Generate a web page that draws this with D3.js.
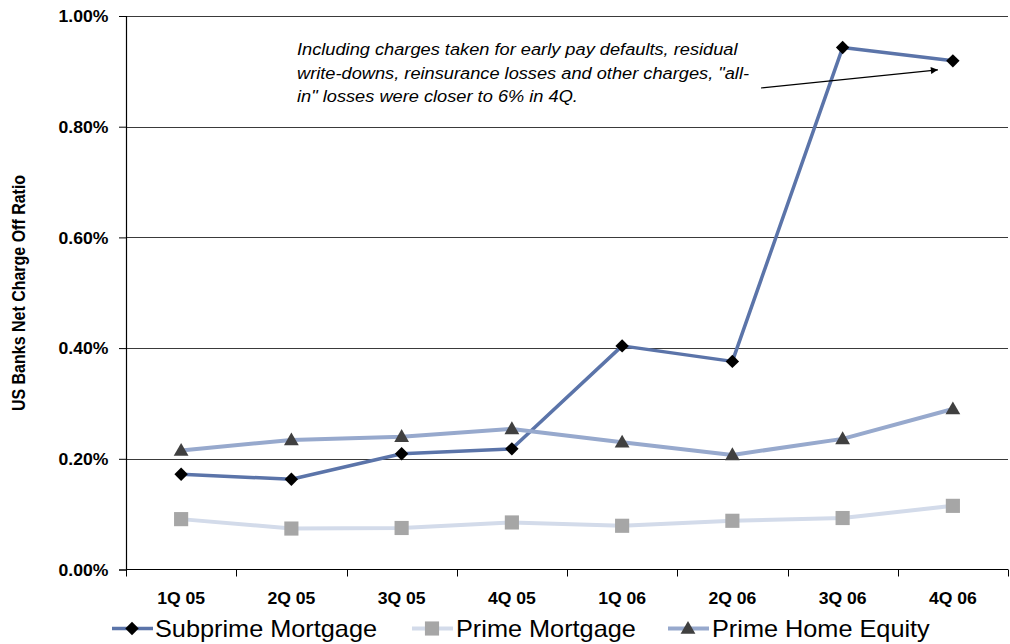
<!DOCTYPE html>
<html>
<head>
<meta charset="utf-8">
<script src="https://cdn.jsdelivr.net/npm/d3@7"></script>
<style>
  html, body { margin: 0; padding: 0; background: #fff; }
  svg { display: block; font-family: Arial, "Liberation Sans", sans-serif; }
</style>
</head>
<body>
<svg id="chart" width="1010" height="644"></svg>
<script>
// Quarterly net charge-off ratios (%), US banks
const quarters = ["1Q 05", "2Q 05", "3Q 05", "4Q 05", "1Q 06", "2Q 06", "3Q 06", "4Q 06"];
const subprimeMortgage = [0.172, 0.163, 0.209, 0.218, 0.404, 0.376, 0.943, 0.919];
const primeMortgage    = [0.091, 0.074, 0.075, 0.085, 0.079, 0.088, 0.093, 0.115];
const primeHomeEquity  = [0.215, 0.234, 0.240, 0.254, 0.230, 0.207, 0.236, 0.290];
const yTicks = [0, 0.2, 0.4, 0.6, 0.8, 1.0];
const seriesNames = ["Subprime Mortgage", "Prime Mortgage", "Prime Home Equity"];
const noteLines = [
  "Including charges taken for early pay defaults, residual",
  "write-downs, reinsurance losses and other charges, \"all-",
  "in\" losses were closer to 6% in 4Q."
];

const series = [
  { name: seriesNames[0], values: subprimeMortgage, line: "#5b74a9", width: 3.5, marker: "diamond", fill: "#000000" },
  { name: seriesNames[1], values: primeMortgage,    line: "#d3dbea", width: 4,   marker: "square",  fill: "#a6a6a6" },
  { name: seriesNames[2], values: primeHomeEquity,  line: "#97a9cd", width: 4,   marker: "triangle", fill: "#404040" }
];

const svg = d3.select("#chart");
const plotLeft = 126, plotRight = 1008, plotTop = 16, plotBottom = 569.5;
const sx = 1.1; // horizontal text stretch

const x = d3.scaleBand().domain(quarters).range([plotLeft, plotRight]);
const xc = q => x(q) + x.bandwidth() / 2;
const y = d3.scaleLinear().domain([0, 1]).range([plotBottom, plotTop]);

const defs = svg.append("defs");
defs.append("marker")
  .attr("id", "arrowHead")
  .attr("viewBox", "0 0 10 10")
  .attr("refX", 10).attr("refY", 5)
  .attr("markerWidth", 9).attr("markerHeight", 7)
  .attr("markerUnits", "userSpaceOnUse")
  .attr("orient", "auto")
  .append("path").attr("d", "M0,0 L10,5 L0,10 Z").attr("fill", "#000");

// Gridlines
svg.append("g").selectAll("line")
  .data(yTicks.filter(d => d > 0))
  .join("line")
  .attr("x1", plotLeft).attr("x2", plotRight)
  .attr("y1", d => Math.round(y(d)) + 0.5).attr("y2", d => Math.round(y(d)) + 0.5)
  .attr("stroke", "#3a3a3a").attr("stroke-width", 1);

// Y axis
const yAxis = svg.append("g")
  .attr("transform", `translate(${plotLeft},0)`)
  .call(d3.axisLeft(y).tickValues(yTicks).tickSize(7).tickPadding(9)
    .tickFormat(d => d.toFixed(2) + "%"));
yAxis.select(".domain").attr("stroke", "#000").attr("stroke-width", 1.2);
yAxis.selectAll(".tick line").attr("stroke", "#000");
yAxis.selectAll(".tick text")
  .attr("font-size", 16).attr("font-weight", "bold").attr("fill", "#000")
  .attr("font-family", "Arial, 'Liberation Sans', sans-serif")
  .attr("dy", "0.36em")
  .attr("transform", `scale(${sx},1)`);

// X axis line and tick marks at category boundaries
const xAxisG = svg.append("g");
xAxisG.append("line")
  .attr("x1", plotLeft).attr("x2", plotRight).attr("y1", plotBottom).attr("y2", plotBottom)
  .attr("stroke", "#000").attr("stroke-width", 1.2);
const bounds = quarters.map(q => x(q)).concat([x.range()[1]]);
xAxisG.selectAll("line.tk").data(bounds).join("line")
  .attr("class", "tk")
  .attr("x1", d => Math.round(d) + 0.5).attr("x2", d => Math.round(d) + 0.5)
  .attr("y1", plotBottom).attr("y2", plotBottom + 7)
  .attr("stroke", "#000");
xAxisG.selectAll("text").data(quarters).join("text")
  .attr("transform", d => `translate(${xc(d)},604) scale(${sx},1)`)
  .attr("text-anchor", "middle")
  .attr("font-size", 16).attr("font-weight", "bold")
  .text(d => d);

// Y axis title
svg.append("text")
  .attr("transform", "translate(25,293) rotate(-90) scale(1,1.1)")
  .attr("text-anchor", "middle")
  .attr("font-size", 16).attr("font-weight", "bold")
  .text("US Banks Net Charge Off Ratio");

// Marker symbols
const symbolFor = {
  diamond: d3.symbol().type(d3.symbolSquare).size(90),
  square: d3.symbol().type(d3.symbolSquare).size(200),
  triangle: d3.symbol().type(d3.symbolTriangle).size(95)
};
function drawMarker(g, kind, cx, cy, fill) {
  const p = g.append("path").attr("d", symbolFor[kind]()).attr("fill", fill);
  if (kind === "diamond") p.attr("transform", `translate(${cx},${cy}) rotate(45)`);
  else if (kind === "triangle") p.attr("transform", `translate(${cx},${cy + 1})`);
  else p.attr("transform", `translate(${cx},${cy})`);
}

// Series lines and markers
const line = d3.line().x((d, i) => xc(quarters[i])).y(d => y(d));
series.forEach(s => {
  const g = svg.append("g");
  g.append("path").attr("d", line(s.values))
    .attr("fill", "none").attr("stroke", s.line).attr("stroke-width", s.width)
    .attr("stroke-linejoin", "round");
  s.values.forEach((v, i) => drawMarker(g, s.marker, xc(quarters[i]), y(v), s.fill));
});

// Annotation
const note = svg.append("g");
noteLines.forEach((t, i) => {
  note.append("text")
    .attr("transform", `translate(297,${55 + i * 23.5}) scale(1.105,1)`)
    .attr("font-size", 16.5).attr("font-style", "italic").attr("fill", "#000")
    .text(t);
});
const lastQ = quarters[quarters.length - 1];
const lastV = subprimeMortgage[subprimeMortgage.length - 1];
note.append("line")
  .attr("x1", 761).attr("y1", 88)
  .attr("x2", xc(lastQ) - 15).attr("y2", y(lastV) + 9)
  .attr("stroke", "#000").attr("stroke-width", 1.2)
  .attr("marker-end", "url(#arrowHead)");

// Legend
const legendItems = [
  { s: series[0], x0: 112, tx: 155 },
  { s: series[1], x0: 412, tx: 456 },
  { s: series[2], x0: 668, tx: 712 }
];
const ly = 628.5;
legendItems.forEach(it => {
  const g = svg.append("g");
  g.append("line").attr("x1", it.x0).attr("x2", it.x0 + 41)
    .attr("y1", ly).attr("y2", ly)
    .attr("stroke", it.s.line).attr("stroke-width", it.s.width);
  drawMarker(g, it.s.marker, it.x0 + 20, ly, it.s.fill);
  g.append("text")
    .attr("transform", `translate(${it.tx},637) scale(${sx},1)`)
    .attr("font-size", 23).attr("fill", "#000")
    .text(it.s.name);
});
</script>
</body>
</html>
